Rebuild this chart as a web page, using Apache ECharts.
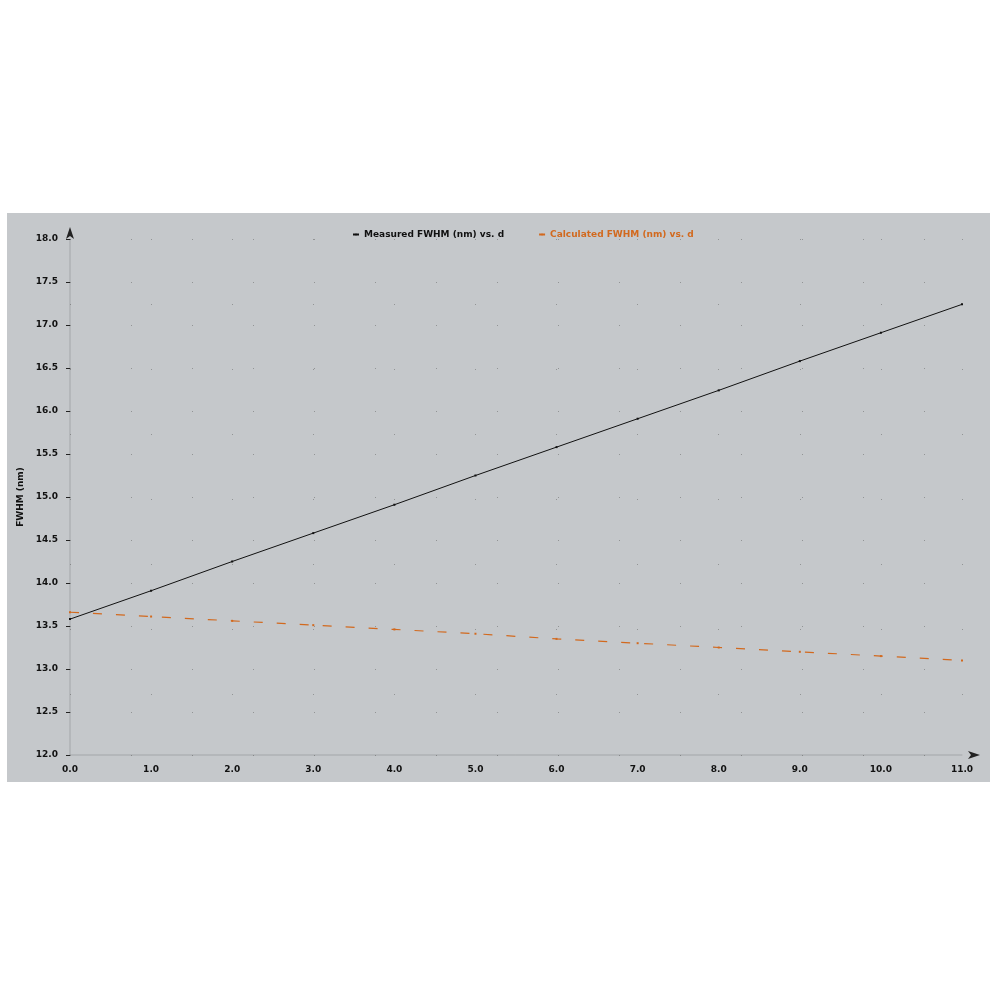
<!DOCTYPE html>
<html>
<head>
<meta charset="utf-8">
<script src="https://cdn.jsdelivr.net/npm/echarts@6/dist/echarts.min.js"></script>
<style>
  html, body { margin: 0; padding: 0; background: #fff; }
  #wrap { position: absolute; left: 0; top: 0; width: 1000px; height: 1000px; background: #fff; }
  #chart { position: absolute; left: 7px; top: 213px; width: 983px; height: 569px; background: #c5c8cb; }
</style>
</head>
<body>
<div id="wrap"><div id="chart"></div></div>
<script>
// x positions (ticks 0.0 .. 11.0)
const xValues = [0, 1, 2, 3, 4, 5, 6, 7, 8, 9, 10, 11];
// black solid series
const measured = [13.58, 13.91, 14.25, 14.58, 14.91, 15.25, 15.58, 15.91, 16.24, 16.58, 16.91, 17.24];
// orange dashed series
const calculated = [13.66, 13.61, 13.56, 13.51, 13.46, 13.41, 13.35, 13.30, 13.25, 13.20, 13.15, 13.10];
const seriesNames = ['Measured FWHM (nm) vs. d', 'Calculated FWHM (nm) vs. d'];
const yName = 'FWHM (nm)';

const chart = echarts.init(document.getElementById('chart'));

const labelFont = { fontFamily: 'DejaVu Sans', fontSize: 9, fontWeight: 'bold', color: '#111' };

chart.setOption({
  backgroundColor: '#c5c8cb',
  animation: false,
  legend: {
    top: 12,
    left: 340,
    itemWidth: 6,
    itemHeight: 2,
    itemGap: 34,
    textStyle: { fontFamily: 'DejaVu Sans', fontSize: 9, fontWeight: 'bold' },
    data: [
      { name: seriesNames[0], textStyle: { color: '#111' } },
      { name: seriesNames[1], textStyle: { color: '#d2691e' } }
    ]
  },
  grid: { left: 63, right: 28, top: 26, bottom: 27 },
  xAxis: {
    type: 'value',
    min: 0,
    max: 11,
    interval: 1,
    axisLine: {
      show: true,
      lineStyle: { color: '#222', width: 0.2 },
      symbol: ['none', 'arrow'],
      symbolSize: [6, 12],
      symbolOffset: [0, 18]
    },
    axisTick: { show: false },
    axisLabel: Object.assign({ margin: 10, formatter: v => v.toFixed(1) }, labelFont),
    splitLine: { show: true, lineStyle: { color: '#555', type: [1, 64], width: 1, opacity: 0.45 } }
  },
  yAxis: {
    type: 'value',
    min: 12,
    max: 18,
    interval: 0.5,
    name: yName,
    nameLocation: 'middle',
    nameGap: 42,
    nameTextStyle: { fontFamily: 'DejaVu Sans', fontSize: 9, fontWeight: 'bold', color: '#111' },
    axisLine: {
      show: true,
      lineStyle: { color: '#222', width: 0.2 },
      symbol: ['none', 'arrow'],
      symbolSize: [6, 12],
      symbolOffset: [0, 12]
    },
    axisTick: { show: true, inside: false, length: 4, lineStyle: { color: '#222' } },
    axisLabel: Object.assign({ margin: 12, formatter: v => v.toFixed(1) }, labelFont),
    splitLine: { show: true, lineStyle: { color: '#555', type: [1, 60], width: 1, opacity: 0.45 } }
  },
  series: [
    {
      name: seriesNames[0],
      type: 'line',
      data: xValues.map((x, i) => [x, measured[i]]),
      symbol: 'rect',
      symbolSize: 2,
      showSymbol: true,
      itemStyle: { color: '#111' },
      lineStyle: { color: '#111', width: 1 }
    },
    {
      name: seriesNames[1],
      type: 'line',
      data: xValues.map((x, i) => [x, calculated[i]]),
      symbol: 'rect',
      symbolSize: 2,
      showSymbol: true,
      itemStyle: { color: '#d2691e' },
      lineStyle: { color: '#d2691e', width: 1.2, type: [9, 14] }
    }
  ]
});
</script>
</body>
</html>
